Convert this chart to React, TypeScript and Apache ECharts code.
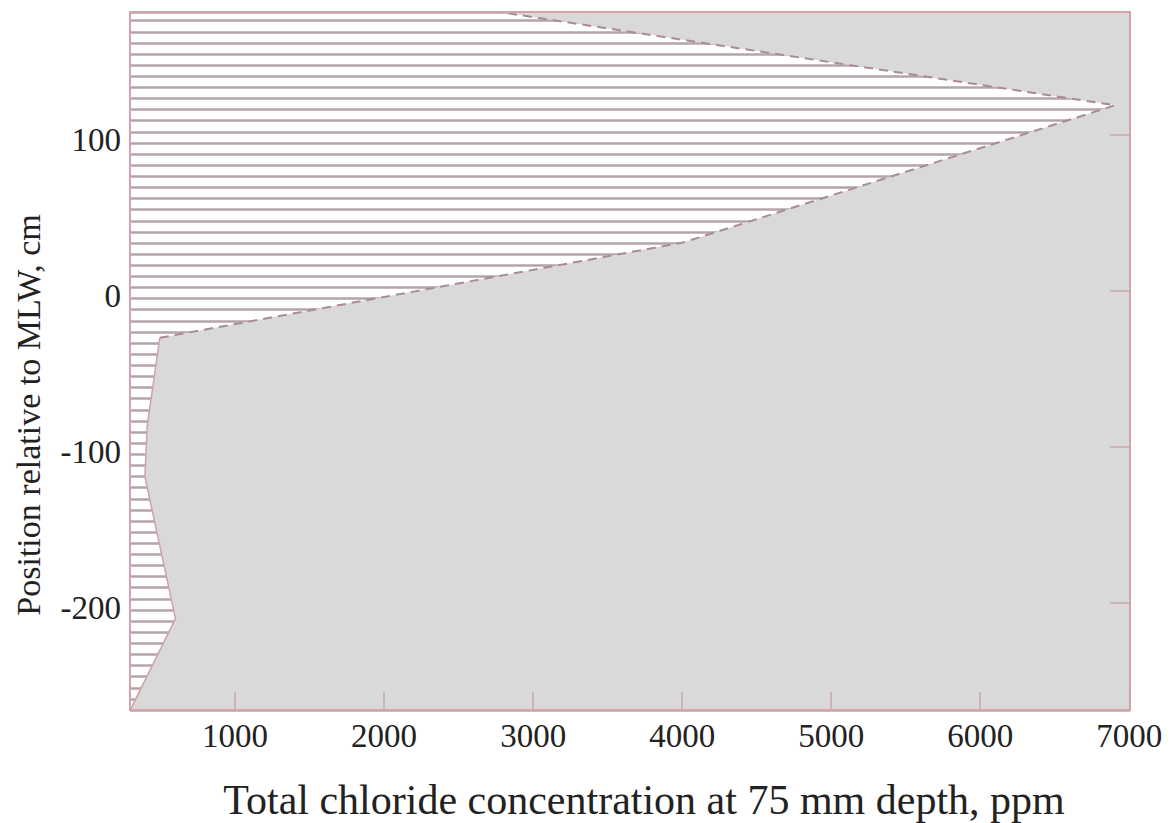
import React, { useEffect, useRef } from "react";
import * as echarts from "echarts";

// Data
const chloride = [300, 600, 395, 410, 495, 4005, 6905, 2760]; // ppm
const positions = [-268, -210, -119, -87, -30, 31, 119, 179]; // cm rel. MLW
const splitIndex = 4; // below this point the boundary is solid, above dashed

const xTicks = [1000, 2000, 3000, 4000, 5000, 6000, 7000];
const yTicks = [-200, -100, 0, 100];

const xMin = 295;
const xMax = 7005;
const yMin = -268.6;
const yMax = 178.8;
const hatchCount = 62.78;

const FONT = "'Liberation Serif', 'Times New Roman', serif";
const PINK = "#d3a3a7";

export default function App() {
  const ref = useRef<HTMLDivElement>(null);

  useEffect(() => {
    if (!ref.current) return;
    const chart = echarts.init(ref.current, undefined, { renderer: "svg" });
    const pts = chloride.map((c, i) => [c, positions[i]]);
    const lower = pts.slice(0, splitIndex + 1);
    const upper = pts.slice(splitIndex);

    chart.setOption({
      animation: false,
      backgroundColor: "#fff",
      grid: {
        left: 130,
        top: 12,
        width: 1000,
        height: 698,
        show: true,
        backgroundColor: "#ffffff",
        borderWidth: 0,
      },
      xAxis: [
        {
          type: "value",
          position: "bottom",
          min: xMin,
          max: xMax,
          z: 5,
          axisLine: { show: true, onZero: false, lineStyle: { color: PINK, width: 2 } },
          axisTick: {
            show: true,
            inside: true,
            length: 18,
            customValues: xTicks,
            lineStyle: { color: "#c8a6a9", width: 1.5 },
          },
          axisLabel: {
            customValues: xTicks,
            formatter: (v: number) => String(v),
            fontFamily: FONT,
            fontSize: 33,
            color: "#222",
            margin: 9,
          },
          splitLine: { show: false },
        },
        {
          type: "value",
          position: "top",
          min: xMin,
          max: xMax,
          z: 5,
          axisLine: { show: true, onZero: false, lineStyle: { color: PINK, width: 2 } },
          axisTick: { show: false },
          axisLabel: { show: false },
          splitLine: { show: false },
        },
      ],
      yAxis: [
        {
          type: "value",
          position: "left",
          min: yMin,
          max: yMax,
          z: 5,
          axisLine: { show: true, onZero: false, lineStyle: { color: PINK, width: 2 } },
          axisTick: { show: false },
          axisLabel: {
            customValues: yTicks,
            formatter: (v: number) => `{a|${v}}`,
            rich: {
              a: {
                fontFamily: FONT,
                fontSize: 33,
                color: "#222",
                padding: [10, 0, 0, 0],
              },
            },
            margin: 9,
          },
          splitLine: { show: false },
        },
        {
          type: "value",
          position: "left",
          min: 0,
          max: hatchCount,
          interval: 1,
          z: 0,
          axisLine: { show: false },
          axisTick: { show: false },
          axisLabel: { show: false },
          splitLine: { show: true, lineStyle: { color: "#b5a4a7", width: 2.5 } },
        },
        {
          type: "value",
          position: "right",
          min: yMin,
          max: yMax,
          z: 5,
          axisLine: { show: true, onZero: false, lineStyle: { color: PINK, width: 2 } },
          axisTick: {
            show: true,
            inside: true,
            length: 20,
            customValues: yTicks,
            lineStyle: { color: "#c8a6a9", width: 1.5 },
          },
          axisLabel: { show: false },
          splitLine: { show: false },
        },
      ],
      series: [
        {
          type: "custom",
          xAxisIndex: 0,
          yAxisIndex: 0,
          z: 1,
          clip: true,
          data: pts,
          encode: { x: 0, y: 1 },
          renderItem: (params: any, api: any) => {
            if (params.dataIndex !== 0) return null;
            const poly = pts.map((p) => api.coord(p));
            poly.push(api.coord([xMax, yMax]));
            poly.push(api.coord([xMax, yMin]));
            return {
              type: "polygon",
              shape: { points: poly },
              style: { fill: "#d9d9d9", stroke: "none" },
            };
          },
        },
        {
          type: "line",
          xAxisIndex: 0,
          yAxisIndex: 0,
          z: 3,
          data: lower,
          symbol: "none",
          lineStyle: { color: "#cfa2a6", width: 1.5 },
        },
        {
          type: "line",
          xAxisIndex: 0,
          yAxisIndex: 0,
          z: 3,
          data: upper,
          symbol: "none",
          lineStyle: { color: "#a98c92", width: 2, type: [9, 6] },
        },
      ],
      graphic: [
        {
          type: "text",
          x: 644,
          y: 800,
          style: {
            text: "Total chloride concentration at 75 mm depth, ppm",
            fontFamily: FONT,
            fontSize: 42,
            fill: "#222",
            align: "center",
            verticalAlign: "middle",
          },
        },
        {
          type: "text",
          x: 28,
          y: 415,
          rotation: Math.PI / 2,
          style: {
            text: "Position relative to MLW, cm",
            fontFamily: FONT,
            fontSize: 34,
            fill: "#222",
            align: "center",
            verticalAlign: "middle",
          },
        },
      ],
    });

    return () => chart.dispose();
  }, []);

  return (
    <div
      ref={ref}
      style={{ position: "fixed", left: 0, top: 0, width: 1170, height: 823 }}
    />
  );
}
